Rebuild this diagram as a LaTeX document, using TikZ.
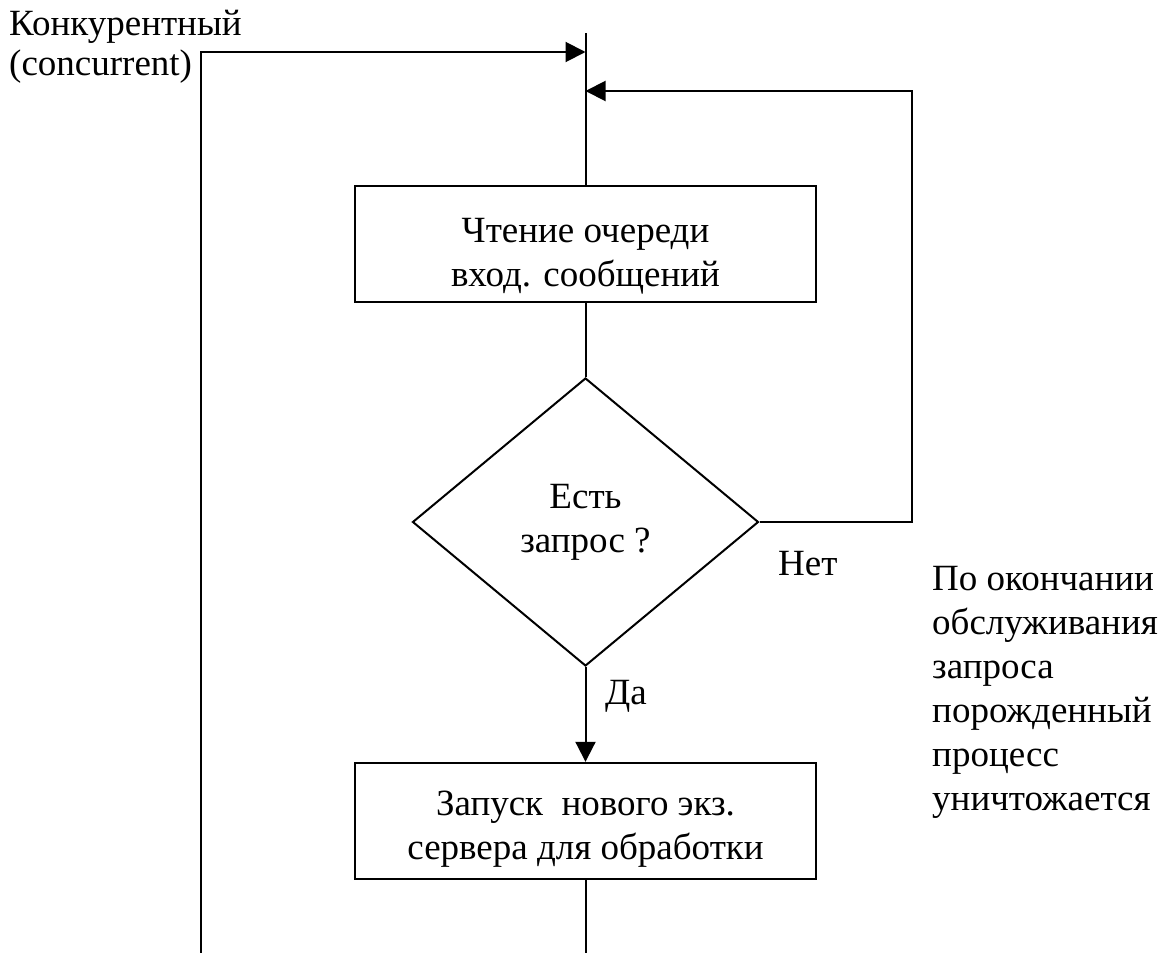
\documentclass[tikz,border=0pt]{standalone}
\usepackage{fontspec}
\setmainfont{Liberation Serif}
\usetikzlibrary{shapes.geometric,arrows.meta}
\begin{document}
\begin{tikzpicture}[x=1pt,y=-1pt,
  every node/.style={font=\fontsize{37}{44}\selectfont},
  flowline/.style={line width=2pt},
  arrowline/.style={flowline,-{Triangle[length=20pt,width=20pt]}},
  procbox/.style={draw,line width=2.4pt,minimum width=461pt,minimum height=116pt,
                  align=center,inner sep=0pt},
  decision/.style={draw,diamond,line width=2pt,minimum width=346pt,minimum height=288pt,
                   inner sep=0pt,align=center},
  note/.style={align=left,inner sep=0pt}]
\useasboundingbox (0,0) rectangle (1171,953);

% flowchart blocks (the struts push the text a little below the middle)
\node[procbox] (read) at (585.5,244) {\rule{0pt}{48pt}Чтение очереди\\вход. сообщений};
\node[decision] (ask) at (585.5,522) {Есть\\запрос ?};
\node[procbox] (spawn) at (585.5,821) {\rule{0pt}{41pt}Запуск\ \ нового экз.\\сервера для обработки};

% fixed points of the connectors
\coordinate (top) at (585.5,33);
\coordinate (bot) at (585.5,953);
\coordinate (leftbot) at (201,953);
\coordinate (join) at (585.5,52);
\coordinate (loopin) at (585.5,91);
\coordinate (loopcorner) at (912,522);

% connectors
\draw[flowline] (top) -- (read.north);
\draw[arrowline] (leftbot) |- (join);
\draw[arrowline] (ask.east) -- (loopcorner) |- (loopin);
\draw[flowline] (read.south) -- (ask.north);
\draw[arrowline] (ask.south) -- (spawn.north);
\draw[flowline] (spawn.south) -- (bot);

% labels (base anchors sit on the last line)
\node[note,anchor=base west,font=\fontsize{37}{40}\selectfont] (mode) at (9,75)
  {Конкурентный\\(concurrent)};
\node[note,anchor=base west] (no) at (778,575) {Нет};
\node[note,anchor=base west] (yes) at (605,704) {Да};
\node[note,anchor=base west,font=\fontsize{37}{44}\selectfont] (remark) at (932,810)
  {По окончании\\обслуживания\\запроса\\порожденный\\процесс\\уничтожается};
\end{tikzpicture}
\end{document}
